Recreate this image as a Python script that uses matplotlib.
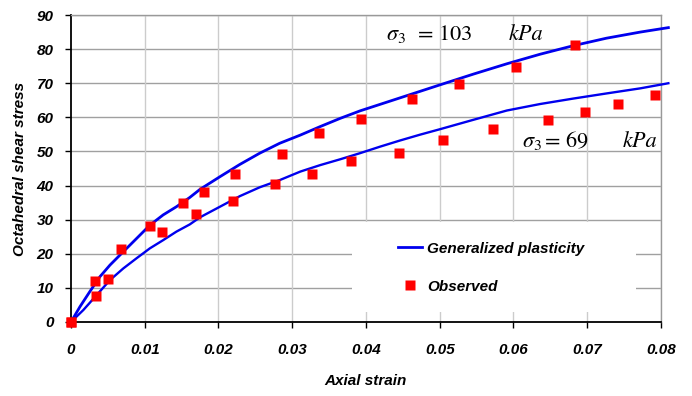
import matplotlib
matplotlib.use("Agg")
import matplotlib.pyplot as plt
from matplotlib.patches import Rectangle

# Observed points, sigma3 = 103 kPa
obs103_x = [0, 0.00325, 0.00678, 0.01067, 0.01515, 0.01803, 0.02228, 0.02861,
            0.03367, 0.03928, 0.04628, 0.05261, 0.0603, 0.06838]
obs103_y = [0, 12.1, 21.3, 28.2, 34.9, 38.0, 43.4, 49.3, 55.3, 59.4, 65.3,
            69.7, 74.8, 81.3]

# Observed points, sigma3 = 69 kPa
obs69_x = [0, 0.00339, 0.00498, 0.0123, 0.01695, 0.0220, 0.02762, 0.03268,
           0.03797, 0.04452, 0.05044, 0.05718, 0.06468, 0.06966, 0.07417, 0.07923]
obs69_y = [0, 7.7, 12.7, 26.5, 31.7, 35.4, 40.4, 43.4, 47.2, 49.6, 53.4,
           56.7, 59.2, 61.7, 63.8, 66.5]

# Generalized plasticity, sigma3 = 103 kPa
gp103_x = [0, 0.00122, 0.00258, 0.00393, 0.00529, 0.00709, 0.0089, 0.0107,
           0.0125, 0.0143, 0.0161, 0.0175, 0.0202, 0.0229, 0.0256, 0.0283,
           0.0311, 0.0338, 0.0365, 0.0392, 0.0419, 0.0446, 0.0473, 0.0500,
           0.0546, 0.0591, 0.0636, 0.0681, 0.0726, 0.0772, 0.081]
gp103_y = [0, 4.5, 9.0, 13.3, 16.7, 20.6, 24.5, 28.4, 31.4, 33.8, 36.5, 38.9,
           42.6, 46.2, 49.5, 52.4, 54.8, 57.3, 59.7, 61.9, 63.8, 65.7, 67.6,
           69.5, 72.7, 75.7, 78.5, 81.0, 83.2, 85.0, 86.3]

# Generalized plasticity, sigma3 = 69 kPa
gp69_x = [0, 0.00167, 0.00348, 0.00529, 0.00709, 0.0089, 0.0107, 0.0125,
          0.0143, 0.0161, 0.0175, 0.0202, 0.0229, 0.0256, 0.0283, 0.0311,
          0.0338, 0.0365, 0.0392, 0.0419, 0.0446, 0.0473, 0.0500, 0.0546,
          0.0591, 0.0636, 0.0681, 0.0726, 0.0772, 0.081]
gp69_y = [0, 3.5, 7.9, 12.3, 15.7, 18.7, 21.6, 24.0, 26.5, 28.6, 30.7, 33.8,
          36.9, 39.5, 41.6, 44.1, 46.0, 47.7, 49.5, 51.4, 53.2, 54.9, 56.5,
          59.3, 62.0, 63.9, 65.5, 67.0, 68.5, 70.0]

x_ticks = [0, 0.01, 0.02, 0.03, 0.04, 0.05, 0.06, 0.07, 0.08]
x_tick_labels = ['0', '0.01', '0.02', '0.03', '0.04', '0.05', '0.06', '0.07', '0.08']
y_ticks = [0, 10, 20, 30, 40, 50, 60, 70, 80, 90]

plt.rcParams['font.family'] = ['Liberation Sans', 'DejaVu Sans']
plt.rcParams['mathtext.fontset'] = 'stix'

fig = plt.figure(figsize=(6.92, 3.96), dpi=100)
ax = fig.add_axes([0.1026, 0.1869, 0.8526, 0.7752])

ax.set_xlim(0, 0.08)
ax.set_ylim(0, 90)

# grid
for t in y_ticks[1:]:
    ax.axhline(t, color='#a0a0a0', lw=1.0, zorder=1)
for t in x_ticks[1:]:
    ax.axvline(t, color='#cccccc', lw=1.0, zorder=1)

# white legend area hides the grid
ax.add_patch(Rectangle((0.476, 0.033), 0.482, 0.293, transform=ax.transAxes,
                       facecolor='white', edgecolor='none', zorder=1.8))

ax.plot(gp103_x, gp103_y, color='#0000ee', lw=2.0, zorder=3, clip_on=False,
        label='Generalized plasticity')
ax.plot(gp69_x, gp69_y, color='#0000ee', lw=1.7, zorder=3, clip_on=False)
ax.plot(obs103_x, obs103_y, 's', color='#ff0000', ms=7.5, mec='none', zorder=4,
        clip_on=False, label='Observed')
ax.plot(obs69_x, obs69_y, 's', color='#ff0000', ms=7.5, mec='none', zorder=4,
        clip_on=False)

# annotations
ann = dict(fontsize=16, ha='left', va='baseline')
ax.text(0.0427, 82.7, r'$\sigma_3$', **ann)
ax.text(0.04705, 82.7, '= 103', family='STIXGeneral', **ann)
ax.text(0.0593, 82.7, 'kPa', family='STIXGeneral', style='italic', **ann)
ax.text(0.0611, 51.3, r'$\sigma_3$', **ann)
ax.text(0.0643, 51.3, '= 69', family='STIXGeneral', **ann)
ax.text(0.0748, 51.3, 'kPa', family='STIXGeneral', style='italic', **ann)

ax.set_xticks(x_ticks)
ax.set_xticklabels(x_tick_labels)
ax.set_yticks(y_ticks)
for lab in ax.get_xticklabels() + ax.get_yticklabels():
    lab.set_fontweight('bold')
    lab.set_fontstyle('italic')
    lab.set_fontsize(11)
ax.tick_params(axis='x', direction='out', length=4, width=1, pad=11)
ax.tick_params(axis='y', direction='out', length=4, width=1, pad=8.5)

for side in ['left', 'bottom']:
    ax.spines[side].set_color('black')
    ax.spines[side].set_linewidth(1.3)
for side in ['top', 'right']:
    ax.spines[side].set_color('#999999')
    ax.spines[side].set_linewidth(1.0)

label_font = dict(fontsize=11, fontweight='bold', fontstyle='italic')
ax.set_xlabel('Axial strain', **label_font)
ax.set_ylabel('Octahedral shear stress', **label_font)
ax.xaxis.set_label_coords(0.5, -0.170)
ax.yaxis.set_label_coords(-0.0746, 0.5)

leg = ax.legend(loc='upper left', bbox_to_anchor=(0.554, 0.262), frameon=False,
                borderpad=0, borderaxespad=0, handlelength=1.6,
                handletextpad=0.33, labelspacing=1.57, numpoints=1,
                prop=dict(family='Liberation Sans', weight='bold',
                          style='italic', size=11))

fig.savefig('out.png', dpi=100)
